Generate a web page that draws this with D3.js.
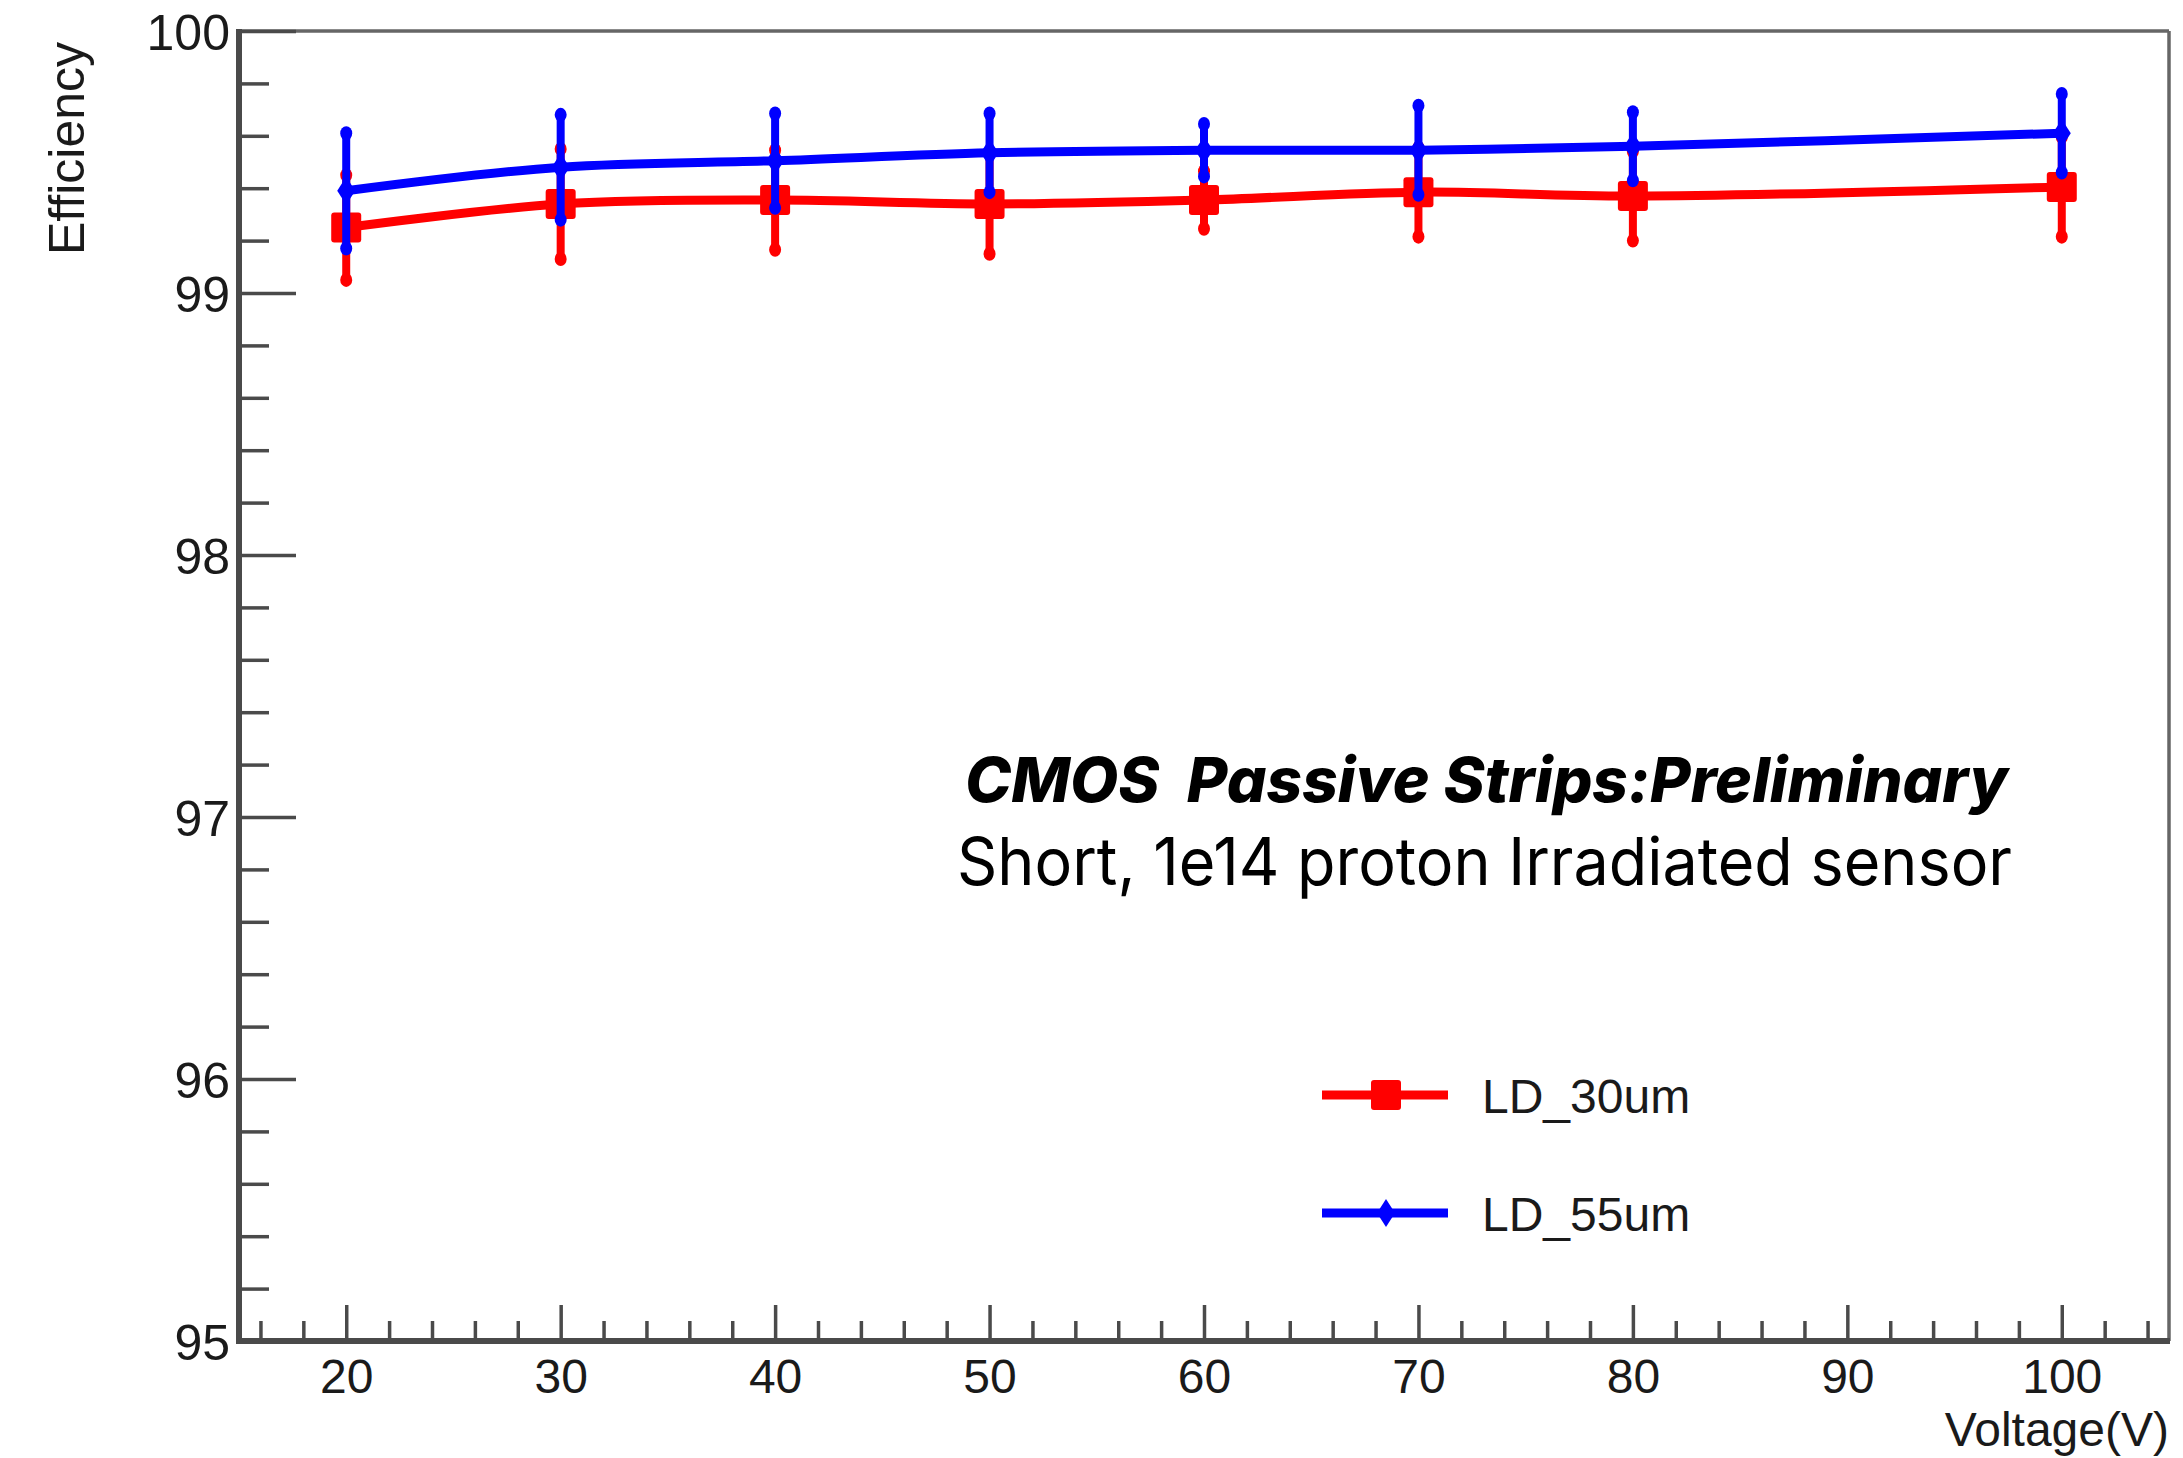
<!DOCTYPE html>
<html>
<head>
<meta charset="utf-8">
<script src="https://cdn.jsdelivr.net/npm/d3@7"></script>
<style>
  html, body { margin: 0; padding: 0; background: #fff; }
  svg { display: block; }
</style>
</head>
<body>
<svg id="chart" width="2183" height="1458"></svg>
<script>
// ---- Data ----
const voltages = [20, 30, 40, 50, 60, 70, 80, 100];
const eff30 = [99.25, 99.34, 99.355, 99.34, 99.355, 99.385, 99.37, 99.405];
const err30 = [0.20, 0.21, 0.19, 0.19, 0.11, 0.17, 0.17, 0.19];
const eff55 = [99.39, 99.48, 99.505, 99.535, 99.545, 99.545, 99.56, 99.61];
const err55 = [0.22, 0.20, 0.18, 0.15, 0.10, 0.17, 0.13, 0.15];
const seriesNames = ["LD_30um", "LD_55um"];
const seriesColors = ["#ff0000", "#0000ff"];
const xMajorTicks = [20, 30, 40, 50, 60, 70, 80, 90, 100];
const yMajorTicks = [95, 96, 97, 98, 99, 100];
const xTitle = "Voltage(V)";
const yTitle = "Efficiency";
const noteLine1 = "CMOS  Passive Strips:Preliminary";
const noteLine2 = "Short, 1e14 proton Irradiated sensor";

// ---- Layout ----
const svg = d3.select("#chart");
svg.append("rect").attr("width", 2183).attr("height", 1458).attr("fill", "#fff");

const L = 239, R = 2169, T = 31, B = 1341;
const x = d3.scaleLinear().domain([15, 105]).range([L, R]);
const y = d3.scaleLinear().domain([95, 100]).range([B, T]);

const xMinor = d3.range(16, 105, 2).filter(v => v % 10 !== 0);
const yMinor = d3.range(0, 26).map(i => +(95 + i * 0.2).toFixed(1)).filter(v => Math.abs(v - Math.round(v)) > 1e-6);

const axisColor = "#4a4a4a";
const labelFont = "'Liberation Sans', Arial, Helvetica, sans-serif";
const textColor = "#1a1a1a";

// frame top/right
svg.append("line").attr("x1", L).attr("x2", R).attr("y1", T).attr("y2", T)
  .attr("stroke", "#666").attr("stroke-width", 3.5);
svg.append("line").attr("x1", R).attr("x2", R).attr("y1", T).attr("y2", B)
  .attr("stroke", "#666").attr("stroke-width", 3.5);

// Y axis minor
const gyMinor = svg.append("g").attr("transform", `translate(${L},0)`)
  .call(d3.axisLeft(y).tickValues(yMinor).tickSize(-30).tickFormat(""));
// Y axis major
const gy = svg.append("g").attr("transform", `translate(${L},0)`)
  .call(d3.axisLeft(y).tickValues(yMajorTicks).tickSize(-57).tickPadding(10).tickFormat(d3.format("d")));
// X axis minor
const gxMinor = svg.append("g").attr("transform", `translate(0,${B})`)
  .call(d3.axisBottom(x).tickValues(xMinor).tickSize(-20).tickFormat(""));
// X axis major
const gx = svg.append("g").attr("transform", `translate(0,${B})`)
  .call(d3.axisBottom(x).tickValues(xMajorTicks).tickSize(-36).tickPadding(0).tickFormat(d3.format("d")));

[gyMinor, gy, gxMinor, gx].forEach(g => {
  g.select(".domain").remove();
  g.selectAll(".tick line").attr("stroke", axisColor).attr("stroke-width", 3.5);
});
gy.selectAll(".tick text").attr("x", -9).attr("dy", "0.36em")
  .attr("font-family", labelFont).attr("font-size", 50).attr("fill", textColor);
gx.selectAll(".tick text").attr("y", 0).attr("dy", 0)
  .attr("transform", "translate(0,52)")
  .attr("font-family", labelFont).attr("font-size", 48).attr("fill", textColor);

// thick left and bottom axis lines
svg.append("line").attr("x1", L).attr("x2", L).attr("y1", T - 2).attr("y2", B + 3)
  .attr("stroke", axisColor).attr("stroke-width", 6);
svg.append("line").attr("x1", L - 3).attr("x2", R + 1).attr("y1", B).attr("y2", B)
  .attr("stroke", axisColor).attr("stroke-width", 6);

// axis titles
svg.append("text").attr("x", R).attr("y", 1446).attr("text-anchor", "end")
  .attr("font-family", labelFont).attr("font-size", 48).attr("fill", textColor).text(xTitle);
svg.append("text").attr("transform", "translate(84,42) rotate(-90)").attr("text-anchor", "end")
  .attr("font-family", labelFont).attr("font-size", 50).attr("fill", textColor).text(yTitle);

// ---- Series ----
const series = [
  { name: seriesNames[0], color: seriesColors[0], vals: eff30, errs: err30, marker: "square" },
  { name: seriesNames[1], color: seriesColors[1], vals: eff55, errs: err55, marker: "diamond" }
];

const line = d3.line().x(d => x(d.v)).y(d => y(d.e)).curve(d3.curveCatmullRom.alpha(0.5));

function drawMarker(g, type, cx, cy, color) {
  if (type === "square") {
    g.append("rect").attr("x", cx - 15).attr("y", cy - 15).attr("width", 30).attr("height", 30)
      .attr("rx", 3).attr("fill", color);
  } else {
    g.append("path")
      .attr("d", `M${cx},${cy - 14} L${cx + 9},${cy} L${cx},${cy + 14} L${cx - 9},${cy} Z`)
      .attr("fill", color);
  }
}

series.forEach(s => {
  const pts = voltages.map((v, i) => ({ v, e: s.vals[i], err: s.errs[i] }));
  const g = svg.append("g");
  g.append("path").datum(pts).attr("d", line).attr("fill", "none")
    .attr("stroke", s.color).attr("stroke-width", 9).attr("stroke-linejoin", "round");
  pts.forEach(p => {
    g.append("line").attr("x1", x(p.v)).attr("x2", x(p.v))
      .attr("y1", y(p.e + p.err)).attr("y2", y(p.e - p.err))
      .attr("stroke", s.color).attr("stroke-width", 8).attr("stroke-linecap", "round");
    g.append("ellipse").attr("cx", x(p.v)).attr("cy", y(p.e + p.err)).attr("rx", 6).attr("ry", 7).attr("fill", s.color);
    g.append("ellipse").attr("cx", x(p.v)).attr("cy", y(p.e - p.err)).attr("rx", 6).attr("ry", 7).attr("fill", s.color);
    drawMarker(g, s.marker, x(p.v), y(p.e), s.color);
  });
});

// ---- Legend ----
const legendY = [1095, 1213];
series.forEach((s, i) => {
  const g = svg.append("g");
  g.append("line").attr("x1", 1322).attr("x2", 1448).attr("y1", legendY[i]).attr("y2", legendY[i])
    .attr("stroke", s.color).attr("stroke-width", 9);
  drawMarker(g, s.marker, 1386, legendY[i], s.color);
  g.append("text").attr("x", 1482).attr("y", legendY[i] + 18)
    .attr("font-family", labelFont).attr("font-size", 48).attr("fill", textColor).text(s.name);
});

// ---- Annotation ----
svg.append("text").attr("x", 965).attr("y", 802)
  .attr("font-family", "Inter, 'Open Sans', sans-serif").attr("font-weight", 800)
  .attr("font-style", "italic").attr("font-size", 62).attr("fill", "#000")
  .style("white-space", "pre")
  .attr("textLength", 1043).attr("lengthAdjust", "spacingAndGlyphs")
  .text(noteLine1);
svg.append("text").attr("x", 957).attr("y", 885)
  .attr("font-family", "Inter, 'Open Sans', sans-serif").attr("font-weight", 400)
  .attr("font-size", 66).attr("fill", "#000")
  .attr("textLength", 1055).attr("lengthAdjust", "spacingAndGlyphs")
  .text(noteLine2);
</script>
</body>
</html>
